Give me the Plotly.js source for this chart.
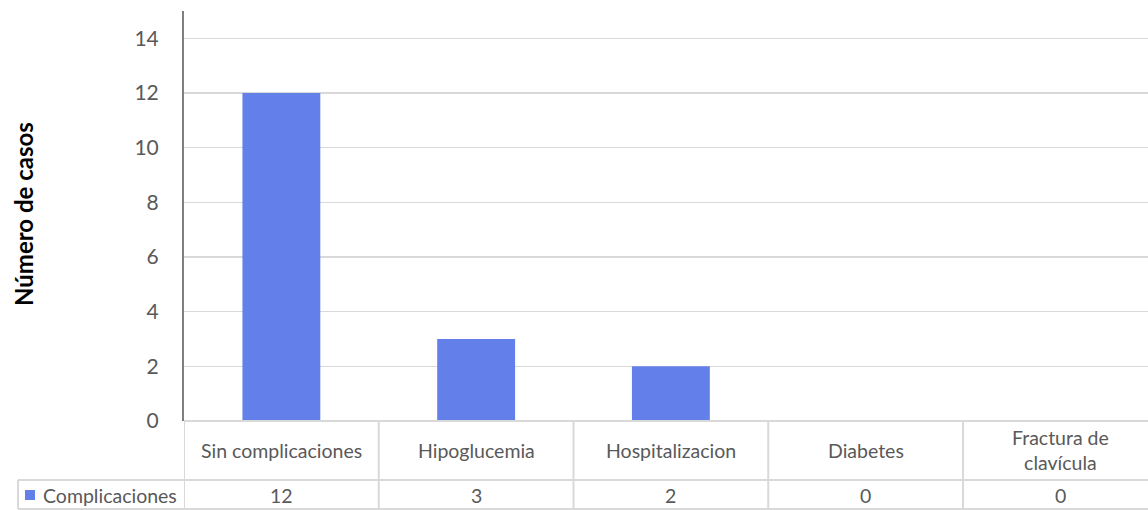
<!DOCTYPE html>
<html><head><meta charset="utf-8">
<script src="https://cdn.plot.ly/plotly-3.0.1.min.js"></script>
<style>body{margin:0;background:#fff}#c{width:1148px;height:510px}</style>
</head><body><div id="c"></div>
<script>
const categories = ["Sin complicaciones", "Hipoglucemia", "Hospitalizacion", "Diabetes", "Fractura de<br>clavícula"];
const values = [12, 3, 2, 0, 0];
const seriesName = "Complicaciones";
const yTitle = "Número de casos";
const yTicks = [0, 2, 4, 6, 8, 10, 12, 14];

const W = 1148, H = 510, L = 184, T = 11, B = 89;
const ph = H - T - B, pw = W - L;
const colW = 194.75;                 // category column width in px (last column is cut off by the frame)
const xMax = categories.length - 0.5 - (L + categories.length * colW - W) / colW;
const py = p => (H - B - p) / ph;   // pixel y -> paper y
const px = p => (p - L) / pw;       // pixel x -> paper x
const tableCol = '#d9d9d9';
const font = 'Lato, sans-serif';
const txtCol = '#595959';

const shapes = [];
const annotations = [];
shapes.push({type:'line', xref:'paper', yref:'paper', x0:0, x1:1, y0:0, y1:0, line:{color:tableCol, width:2}});
shapes.push({type:'line', xref:'paper', yref:'paper', x0:px(18), x1:1, y0:py(480), y1:py(480), line:{color:tableCol, width:2}});
shapes.push({type:'line', xref:'paper', yref:'paper', x0:px(18), x1:1, y0:py(509), y1:py(509), line:{color:tableCol, width:2}});
shapes.push({type:'line', xref:'paper', yref:'paper', x0:px(18), x1:px(18), y0:py(480), y1:py(509), line:{color:tableCol, width:2}});
for (let i = 0; i < categories.length; i++) {
  shapes.push({type:'line', xref:'x', yref:'paper', x0:i-0.5, x1:i-0.5, y0:0, y1:py(509), line:{color:tableCol, width:2}});
}
shapes.push({type:'rect', xref:'paper', yref:'paper', x0:px(25), x1:px(35), y0:py(490), y1:py(500), fillcolor:'#6380ea', line:{width:0}});
annotations.push({xref:'paper', yref:'paper', x:px(41), y:py(495), xanchor:'left', yanchor:'middle', text:seriesName, showarrow:false, font:{family:font, size:19.5, color:txtCol}});
categories.forEach((c, i) => {
  annotations.push({xref:'x', yref:'paper', x:i, y:py(450), xanchor:'center', yanchor:'middle', text:c, showarrow:false, font:{family:font, size:19.5, color:txtCol}});
  annotations.push({xref:'x', yref:'paper', x:i, y:py(495), xanchor:'center', yanchor:'middle', text:String(values[i]), showarrow:false, font:{family:font, size:19.5, color:txtCol}});
});
annotations.push({xref:'paper', yref:'paper', x:px(23), y:py(214), xanchor:'center', yanchor:'middle', textangle:-90, text:'<b>'+yTitle+'</b>', showarrow:false, font:{family:font, size:24, color:'#000'}});

Plotly.newPlot('c', [{
  type:'bar', x:categories.map((c,i)=>i), y:values, name:seriesName,
  marker:{color:'#6380ea'}, width:0.4
}], {
  width:W, height:H, margin:{l:L, r:0, t:T, b:B},
  paper_bgcolor:'#fff', plot_bgcolor:'#fff', showlegend:false,
  font:{family:font, color:txtCol},
  xaxis:{range:[-0.5, xMax], showticklabels:false, showgrid:false, zeroline:false, showline:false, fixedrange:true},
  yaxis:{range:[0, 15], tickvals:yTicks, ticks:'', ticklabelstandoff:19, tickfont:{family:font, size:21, color:txtCol},
         gridcolor:'#d9d9d9', gridwidth:1.5, zeroline:false, showline:true, linecolor:'#7f7f7f', linewidth:2},
  shapes:shapes, annotations:annotations
}, {staticPlot:true});
</script></body></html>
